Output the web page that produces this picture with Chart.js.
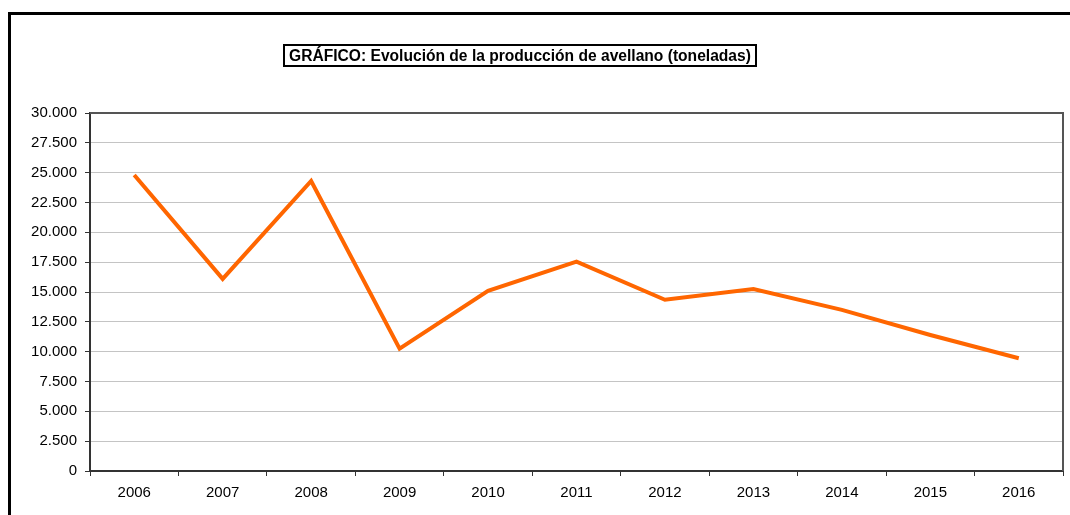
<!DOCTYPE html>
<html>
<head>
<meta charset="utf-8">
<script src="https://cdn.jsdelivr.net/npm/chart.js@4"></script>
<style>
  html, body { margin: 0; padding: 0; background: #fff; overflow: hidden; }
  #wrap { position: relative; width: 1070px; height: 515px; }
  #frame {
    position: absolute; left: 8px; top: 12px; width: 1080px; height: 520px;
    border-left: 3px solid #000; border-top: 3px solid #000;
  }
  #title {
    position: absolute; left: 283px; top: 44px; width: 470px; height: 19px;
    border: 2px solid #000; font: bold 15.6px "Liberation Sans", Arial, sans-serif;
    line-height: 20px; text-align: center; color: #000; white-space: nowrap;
  }
  canvas { position: absolute; left: 0; top: 0; }
</style>
</head>
<body>
<div id="wrap">
  <div id="frame"></div>
  <canvas id="chart" width="1070" height="515"></canvas>
  <div id="title">GRÁFICO: Evolución de la producción de avellano (toneladas)</div>
</div>
<script>
// categories and values (toneladas)
const years = ['2006', '2007', '2008', '2009', '2010', '2011', '2012', '2013', '2014', '2015', '2016'];
const produccion = [24800, 16100, 24300, 10250, 15100, 17550, 14350, 15250, 13500, 11400, 9450];
const yTicks = [0, 2500, 5000, 7500, 10000, 12500, 15000, 17500, 20000, 22500, 25000, 27500, 30000];

const fmt = v => v.toLocaleString('de-DE');

// top + right border of the plot area
const plotBorder = {
  id: 'plotBorder',
  afterDraw(chart) {
    const a = chart.chartArea;
    const ctx = chart.ctx;
    ctx.save();
    ctx.strokeStyle = '#555';
    ctx.lineWidth = 2;
    ctx.beginPath();
    ctx.moveTo(a.left, a.top);
    ctx.lineTo(a.right, a.top);
    ctx.lineTo(a.right, a.bottom);
    ctx.stroke();
    ctx.restore();
  },
};

Chart.defaults.font.family = '"Liberation Sans", Arial, sans-serif';
Chart.defaults.font.size = 15;
Chart.defaults.color = '#000';

var ctx = document.getElementById('chart').getContext('2d');
var chart = new Chart(ctx, {
  type: 'line',
  data: {
    labels: years,
    datasets: [
      {
        label: 'Producción',
        data: produccion,
        borderColor: '#FF6600',
        backgroundColor: '#FF6600',
        borderWidth: 4,
        pointRadius: 0,
        tension: 0,
        fill: false,
      },
    ],
  },
  options: {
    responsive: false,
    animation: false,
    layout: {
      padding: { left: 0, right: 7, top: 113, bottom: 0 },
    },
    plugins: {
      legend: { display: false },
      tooltip: { enabled: false },
    },
    scales: {
      x: {
        offset: true,
        grid: {
          offset: true,
          drawOnChartArea: false,
          tickLength: 5,
          tickColor: '#333',
        },
        border: { color: '#333', width: 2 },
        ticks: { padding: 8, maxRotation: 0 },
        afterFit: scale => { scale.height = 44; },
      },
      y: {
        min: 0,
        max: 30000,
        afterBuildTicks: scale => {
          scale.ticks = yTicks.map(v => ({ value: v }));
        },
        grid: {
          color: '#c4c4c4',
          lineWidth: 1,
          tickLength: 5,
          tickColor: '#333',
        },
        border: { color: '#333', width: 2 },
        ticks: {
          padding: 8,
          callback: v => fmt(v),
        },
        afterFit: scale => { scale.width = 90; },
      },
    },
  },
  plugins: [plotBorder],
});
</script>
</body>
</html>
